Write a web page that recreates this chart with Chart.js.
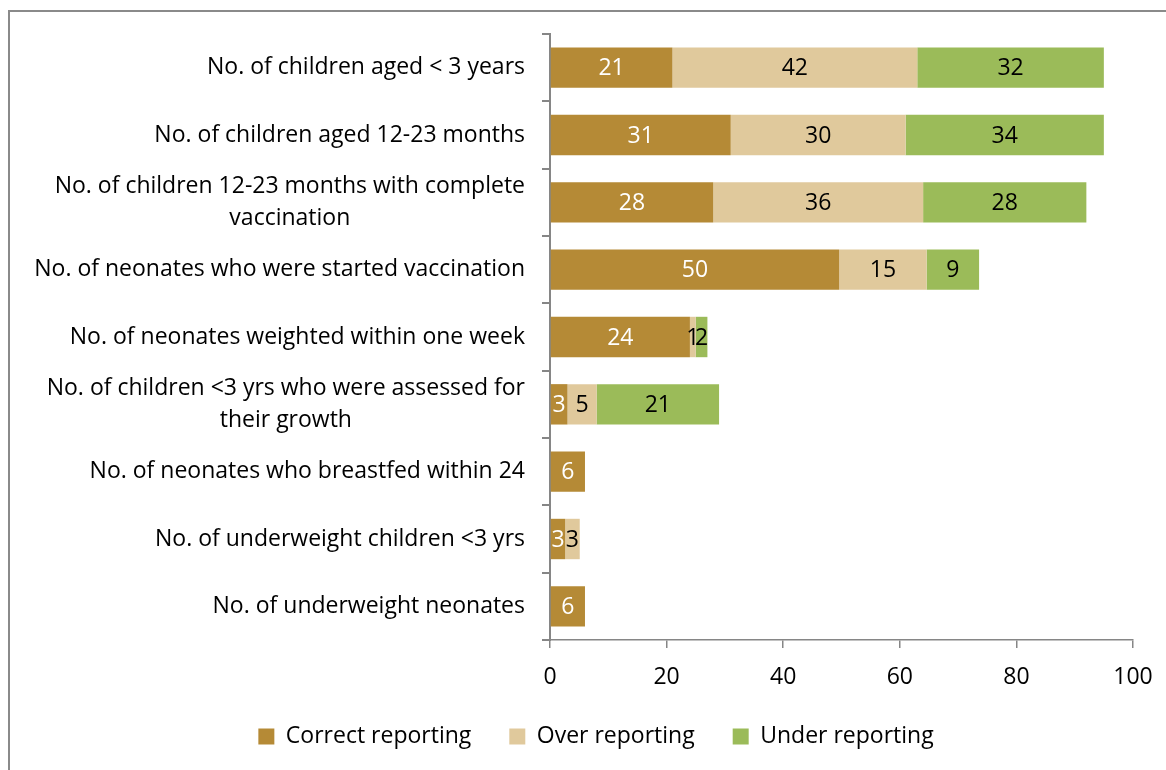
<!DOCTYPE html>
<html><head><meta charset="utf-8">
<script src="https://cdn.jsdelivr.net/npm/chart.js@4/dist/chart.umd.min.js"></script>
<style>
html,body{margin:0;padding:0;background:#fff;overflow:hidden}
#wrap{position:relative;width:1166px;height:770px}
#frame{position:absolute;left:8px;top:10px;width:1200px;height:800px;border:2px solid #8a8a8a;box-sizing:border-box}
canvas{position:absolute;left:0;top:0}
</style></head><body>
<div id="wrap"><div id="frame"></div><canvas id="c" width="1166" height="770"></canvas></div>
<script>
const categories = [
  ["No. of children aged < 3 years"],
  ["No. of children aged 12-23 months"],
  ["No. of children 12-23 months with complete", "vaccination"],
  ["No. of neonates who were started vaccination"],
  ["No. of neonates weighted within one week"],
  ["No. of children <3 yrs who were assessed for", "their growth"],
  ["No. of neonates who breastfed within 24"],
  ["No. of underweight children <3 yrs"],
  ["No. of underweight neonates"]
];
const correctReporting = [21, 31, 28, 49.6, 24, 3, 6, 2.6, 6];
const overReporting    = [42, 30, 36, 15, 1, 5, null, 2.5, null];
const underReporting   = [32, 34, 28, 9, 2, 21, null, null, null];
const seriesNames = ["Correct reporting", "Over reporting", "Under reporting"];
const seriesColors = ["#B58A36", "#E0C99C", "#9BBB59"];
const labelColors = ["#FFFFFF", "#000000", "#000000"];
const xTicks = [0, 20, 40, 60, 80, 100];

const FONT = "'Open Sans'";
const FS = 23;

const yLabelPlugin = {
  id: 'yLabelPlugin',
  afterDraw(chart) {
    const ctx = chart.ctx;
    const ys = chart.scales.y;
    const right = chart.chartArea.left - 25;
    ctx.save();
    ctx.font = FS + "px " + FONT;
    ctx.fillStyle = "#000";
    ctx.textBaseline = "middle";
    ctx.textAlign = "center";
    const lh = 32;
    categories.forEach((lines, i) => {
      const cy = ys.getPixelForValue(i);
      const maxW = Math.max(...lines.map(l => ctx.measureText(l).width));
      const cx = right - maxW / 2;
      const y0 = cy - (lines.length - 1) * lh / 2;
      lines.forEach((l, k) => ctx.fillText(l, cx, y0 + k * lh));
    });
    ctx.restore();
  }
};

const valueLabelPlugin = {
  id: 'valueLabelPlugin',
  afterDatasetsDraw(chart) {
    const ctx = chart.ctx;
    ctx.save();
    ctx.font = FS + "px " + FONT;
    ctx.textAlign = "center";
    ctx.textBaseline = "middle";
    chart.data.datasets.forEach((ds, di) => {
      const meta = chart.getDatasetMeta(di);
      meta.data.forEach((bar, i) => {
        const v = ds.data[i];
        if (v === null || v === undefined) return;
        const cx = (bar.x + bar.base) / 2;
        ctx.fillStyle = labelColors[di];
        ctx.fillText(String(Math.round(v)), cx, bar.y + 1);
      });
    });
    ctx.restore();
  }
};

new Chart(document.getElementById('c'), {
  type: 'bar',
  data: {
    labels: categories.map(c => c.join(' ')),
    datasets: [
      { label: seriesNames[0], data: correctReporting, backgroundColor: seriesColors[0] },
      { label: seriesNames[1], data: overReporting, backgroundColor: seriesColors[1] },
      { label: seriesNames[2], data: underReporting, backgroundColor: seriesColors[2] }
    ]
  },
  options: {
    indexAxis: 'y',
    responsive: false,
    animation: false,
    devicePixelRatio: 1,
    datasets: { bar: { categoryPercentage: 1.0, barPercentage: 0.6, borderWidth: 0 } },
    layout: { padding: { top: 34, left: 59, right: 33, bottom: 12 } },
    plugins: {
      tooltip: { enabled: false },
      legend: {
        position: 'bottom',
        labels: {
          font: { family: FONT, size: FS },
          color: '#000',
          boxWidth: 16,
          boxHeight: 16,
          padding: 38
        }
      }
    },
    scales: {
      x: {
        stacked: true,
        min: 0, max: 100,
        afterBuildTicks: (s) => { s.ticks = xTicks.map(v => ({ value: v })); },
        ticks: { font: { family: FONT, size: FS }, color: '#000', padding: 16 },
        grid: { display: true, drawOnChartArea: false, drawTicks: true, tickLength: 8, color: '#868686', lineWidth: 1.5 },
        border: { display: true, color: '#868686', width: 1.5 },
        afterFit: (s) => { s.height = 47; s.paddingRight = 0; s.paddingLeft = 0; }
      },
      y: {
        stacked: true,
        ticks: { display: false },
        grid: { display: true, drawOnChartArea: false, drawTicks: true, tickLength: 8, offset: true, color: '#868686', lineWidth: 2 },
        border: { display: true, color: '#868686', width: 2 },
        afterFit: (s) => { s.width = 491; }
      }
    }
  },
  plugins: [yLabelPlugin, valueLabelPlugin]
});
</script>
</body></html>
